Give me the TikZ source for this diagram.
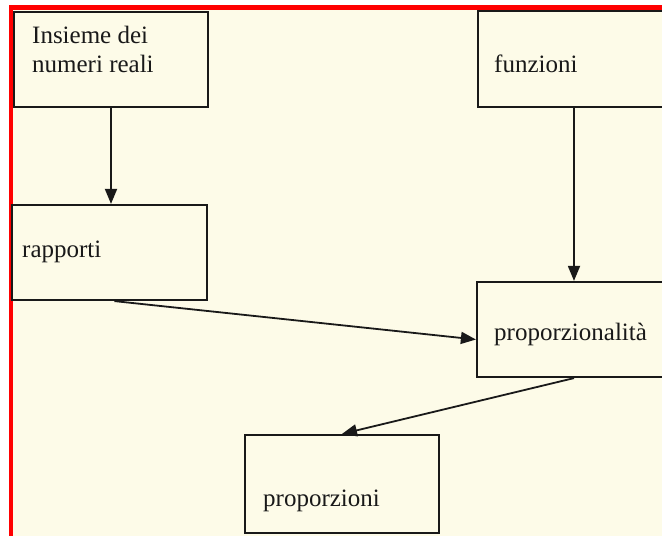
\documentclass[tikz,border=0pt]{standalone}
\usepackage{fontspec}
\setmainfont{Liberation Serif}
\usetikzlibrary{arrows.meta,calc}
\definecolor{cream}{RGB}{253,251,232}
\definecolor{ink}{RGB}{25,25,25}
\begin{document}
\begin{tikzpicture}[x=1pt,y=-1pt,
  box/.style={draw=ink,line width=2.2pt,rectangle,inner sep=0pt},
  lbl/.style={anchor=base west,inner sep=0pt,font=\fontsize{25}{29}\selectfont,text=ink,align=left},
  conn/.style={draw=ink,line width=1.8pt,-{Triangle[length=15pt,width=12pt]}}]
\fill[white] (0,0) rectangle (662,536);
\useasboundingbox (0,0) rectangle (662,536);
\clip (0,0) rectangle (662,536);
\fill[cream] (11,8) rectangle (662,536);
\draw[red,line width=4.5pt] (11,540) -- (11,7.7) -- (666,7.7);
% boxes
\node[box,minimum width=194pt,minimum height=95pt] (ins) at (111,59.5) {};
\node[box,minimum width=192pt,minimum height=96pt] (fun) at (574,59) {};
\node[box,minimum width=195pt,minimum height=95pt] (rap) at (109.5,252.5) {};
\node[box,minimum width=194pt,minimum height=95pt] (prop) at (574,329.5) {};
\node[box,minimum width=194pt,minimum height=98pt] (propz) at (342,484) {};
% labels
\node[lbl] (tins) at (32,72) {Insieme dei\\numeri reali};
\node[lbl] (tfun) at (494,72) {funzioni};
\node[lbl] (trap) at (22,257) {rapporti};
\node[lbl] (tprop) at (494,340) {proporzionalità};
\node[lbl] (tpropz) at (263,506) {proporzioni};
% connectors
\draw[conn] (ins.south) -- (ins.south |- rap.north);
\draw[conn] (fun.south) -- (fun.south |- prop.north);
\draw[conn] ($(rap.south)+(5,0)$) -- ($(prop.west)+(0,10)$);
\draw[conn] (prop.south) -- (propz.north);
\end{tikzpicture}
\end{document}
